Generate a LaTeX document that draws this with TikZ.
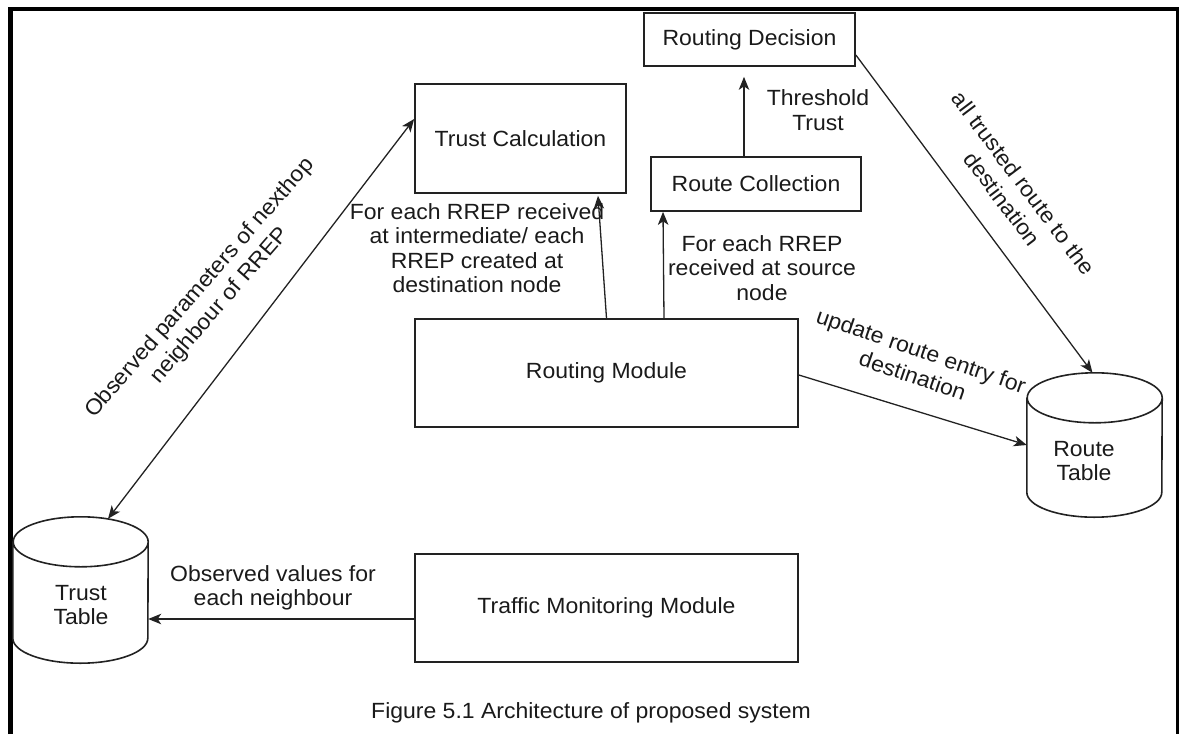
\documentclass[tikz,border=0pt]{standalone}
\usepackage{fontspec}
\setmainfont{Liberation Sans}[FakeStretch=1.045]
\usetikzlibrary{arrows.meta}
\definecolor{ink}{HTML}{1A1A1A}
\definecolor{edge}{HTML}{222222}

\begin{document}
\begin{tikzpicture}[x=1pt,y=1pt,
  every node/.style={font=\fontsize{22}{24.5}\selectfont, text=ink, inner sep=0pt},
  box/.style 2 args={draw=edge, line width=1.7pt, minimum width=#1, minimum height=#2},
  tank/.style={minimum width=135, minimum height=#1},
  cyl/.style={draw=edge, line width=1.6pt},
  tip/.style={-{Stealth[length=13pt,width=10.5pt,inset=3.5pt]}},
  conn/.style={draw=edge, line width=1.3pt, tip},
  note/.style={align=center},
  slant/.style={align=center, rotate=#1, font=\fontsize{22}{26.5}\selectfont}]

\useasboundingbox (0,0) rectangle (1181,-734);

% outer frame
\draw[line width=5pt] (10.5,-734) -- (10.5,-9);
\draw[line width=3.3pt] (8,-9) -- (1179,-9);
\draw[line width=3pt] (1177.5,-8) -- (1177.5,-734);

% blocks
\node[box={211}{53}]  (rd)  at (749.5,-39.5) {Routing Decision};
\node[box={210}{54}]  (rc)  at (756,-184)    {Route Collection};
\node[box={211}{109}] (tc)  at (520.5,-138.5){Trust Calculation};
\node[box={383}{108}] (rm)  at (606.5,-373)  {Routing Module};
\node[box={383}{108}] (tmm) at (606.5,-608)  {Traffic Monitoring Module};

% storage cylinders
\node[tank=144] (rt) at (1094.5,-445) {};
\node[tank=146] (tt) at (80.5,-590) {};
\foreach \n in {rt,tt}{
  \draw[cyl] ([yshift=-25pt]\n.north west) -- ([yshift=25pt]\n.south west)
    arc[start angle=180,end angle=360,x radius=67.5,y radius=25]
    -- ([yshift=-25pt]\n.north east)
    arc[start angle=0,end angle=180,x radius=67.5,y radius=25]
    arc[start angle=180,end angle=360,x radius=67.5,y radius=25];
}
\node[note] (rtl) at (1084,-461) {Route\\Table};
\node[note] (ttl) at (81,-605) {Trust\\Table};

% connectors
\draw[conn] ([yshift=-11pt]tmm.west) -- (tt.east |- 0,-619);
\draw[conn] (rm.north) -- ([shift={(77.5,-2)}]tc.south);
\draw[conn] ([xshift=57.5pt]rm.north) -- ([xshift=-93pt]rc.south);
\draw[conn] ([xshift=-12pt]rc.north) -- ([shift={(-5.5,-10)}]rd.south);
\draw[conn] ([yshift=-15.5pt]rd.east) -- ([xshift=-2pt]rt.north);
\draw[conn] ([yshift=-2pt]rm.east) -- (rt.west);
\draw[conn, {Stealth[length=13pt,width=10.5pt,inset=3.5pt]}-{Stealth[length=13pt,width=10.5pt,inset=3.5pt]}]
  ([xshift=27.5pt,yshift=-2pt]tt.north) -- ([yshift=19.5pt]tc.west);

% connector labels
\node[note] (l1) at (818,-110) {Threshold\\Trust};
\node[note] (l2) at (477,-248) {For each RREP received\\at intermediate/ each\\RREP created at\\destination node};
\node[note] (l3) at (762,-268) {For each RREP\\received at source\\node};
\node[note] (l4) at (273,-588) {Observed values for\\each neighbour};
\node[slant=49] (l5) at (210,-297) {Observed parameters of nexthop\\neighbour of RREP};
\node[slant=-53] (l6) at (1013,-191) {all trusted route to the\\destination};
\node[slant=-19] (l7) at (917,-363) {update route entry for\\destination};

% caption
\node (cap) at (591,-713) {Figure 5.1 Architecture of proposed system};
\end{tikzpicture}
\end{document}
